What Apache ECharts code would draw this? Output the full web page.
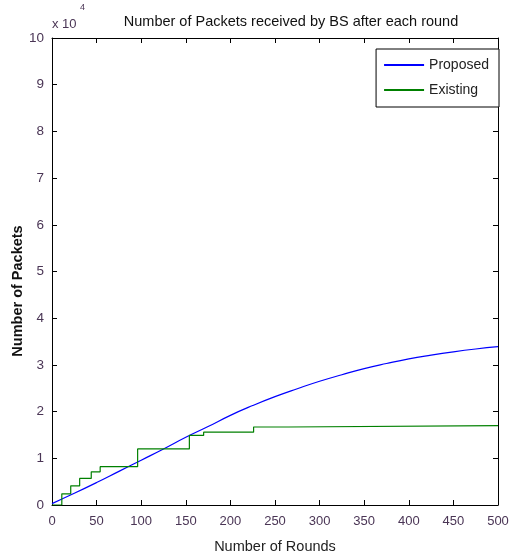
<!DOCTYPE html>
<html><head><meta charset="utf-8">
<script src="https://cdn.jsdelivr.net/npm/echarts@6/dist/echarts.min.js"></script>
<style>html,body{margin:0;padding:0;background:#fff}#c{width:511px;height:553px}</style>
</head><body><div id="c"></div>
<script>
// Values in units of 10^4 packets
const proposedRounds = [0,25,50,75,100,125,150,175,200,225,250,275,300,325,350,375,400,425,450,475,500];
const proposedValues = [0.03,0.25,0.48,0.72,0.96,1.2,1.45,1.68,1.92,2.13,2.32,2.49,2.65,2.79,2.92,3.03,3.13,3.21,3.28,3.34,3.39];
const existingRounds = [0,11,21,31,44,54,96,154,170,226,265,500];
const existingValues = [0,0.24,0.41,0.57,0.71,0.82,1.2,1.49,1.56,1.67,1.7,1.7];
const xTicks = [0,50,100,150,200,250,300,350,400,450,500];
const yTicks = [0,1,2,3,4,5,6,7,8,9,10];

const labelColor = '#4a3555';
const fontFam = '"Liberation Sans", Arial, sans-serif';
const chart = echarts.init(document.getElementById('c'), null, {renderer:'canvas'});
const tickStyle = {show:true, inside:true, length:5, lineStyle:{color:'#000', width:1}};
const lineStyleAxis = {show:true, onZero:false, lineStyle:{color:'#000', width:1}};
chart.setOption({
  animation:false,
  backgroundColor:'#fff',
  textStyle:{fontFamily:fontFam},
  title:{text:'Number of Packets received by BS after each round', left:286, textAlign:'center', top:9,
    textStyle:{fontSize:14.5, fontWeight:'normal', color:'#111', fontFamily:fontFam}},
  grid:{left:52, right:13, top:38, bottom:48, containLabel:false, outerBoundsMode:'none'},
  legend:{right:12, top:49, orient:'vertical', borderColor:'#000', borderWidth:1, backgroundColor:'#fff',
    padding:[9,10,10,8], itemGap:11, itemWidth:40, itemHeight:2, icon:'rect',
    textStyle:{fontSize:14, color:'#222', fontFamily:fontFam},
    data:['Proposed','Existing']},
  graphic:[
    {type:'text', left:52, top:18, style:{text:'x 10', fontSize:13, fill:labelColor, fontFamily:fontFam}},
    {type:'text', left:80, top:3, style:{text:'4', fontSize:9, fill:labelColor, fontFamily:fontFam}},
    {type:'text', x:18, y:291, rotation:Math.PI/2,
      style:{text:'Number of Packets', fontSize:14.5, fontWeight:'bold', fill:'#111', fontFamily:fontFam,
        align:'center', verticalAlign:'middle'}}
  ],
  xAxis:[{type:'value', min:0, max:500, interval:50, position:'bottom',
      name:'Number of Rounds', nameLocation:'middle', nameGap:34,
      nameTextStyle:{fontSize:14.5, color:'#222', fontFamily:fontFam},
      axisLine:lineStyleAxis, axisTick:tickStyle, splitLine:{show:false},
      axisLabel:{fontSize:13, color:labelColor, margin:10, formatter:v=>xTicks.includes(v)?String(v):''}},
    {type:'value', min:0, max:500, interval:50, position:'top',
      axisLine:lineStyleAxis, axisTick:tickStyle, splitLine:{show:false},
      axisLabel:{show:false}}],
  yAxis:[{type:'value', min:0, max:10, interval:1, position:'left',
      axisLine:lineStyleAxis, axisTick:tickStyle, splitLine:{show:false},
      axisLabel:{fontSize:13.5, color:labelColor, margin:8, formatter:v=>yTicks.includes(v)?String(v):''}},
    {type:'value', min:0, max:10, interval:1, position:'right',
      axisLine:lineStyleAxis, axisTick:tickStyle, splitLine:{show:false},
      axisLabel:{show:false}}],
  series:[
    {name:'Proposed', type:'line', showSymbol:false, smooth:true, color:'#0000ff',
      lineStyle:{width:1.2, color:'#0000ff'},
      data:proposedRounds.map((r,i)=>[r,proposedValues[i]])},
    {name:'Existing', type:'line', showSymbol:false, step:'end', color:'#008000',
      lineStyle:{width:1.2, color:'#008000'},
      data:existingRounds.map((r,i)=>[r,existingValues[i]])}
  ]
});
</script></body></html>
